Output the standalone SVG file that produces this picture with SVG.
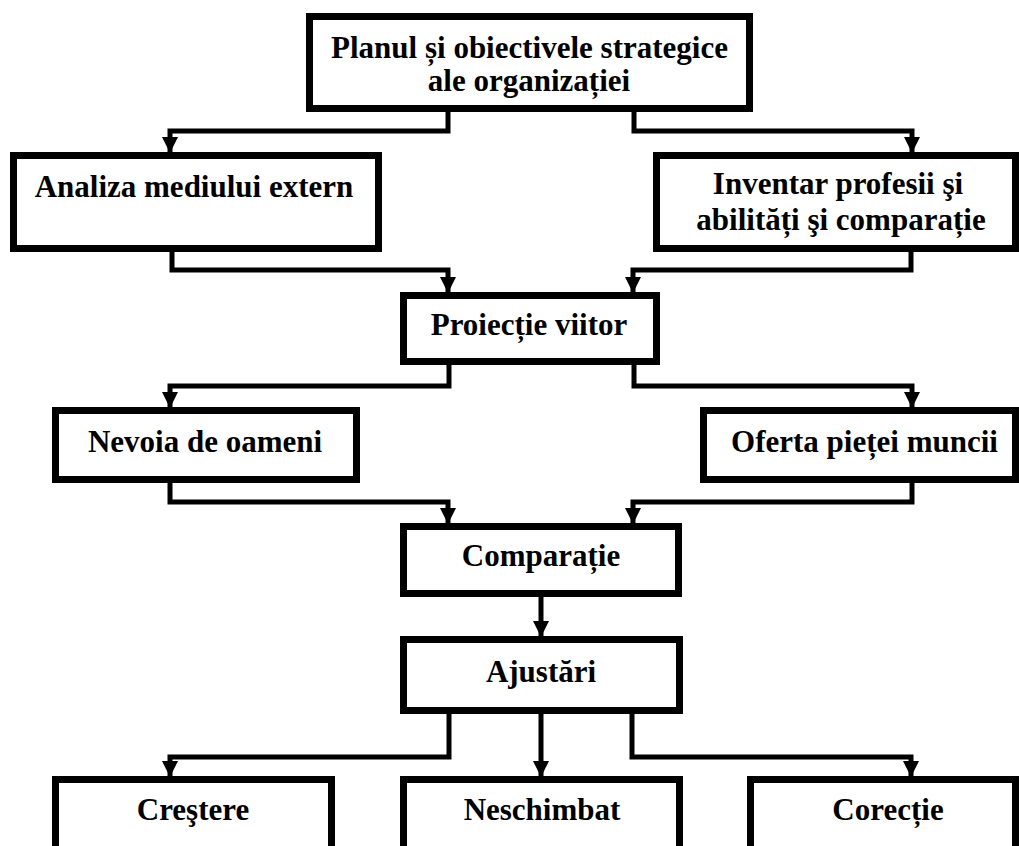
<svg xmlns="http://www.w3.org/2000/svg" width="1019" height="846" viewBox="0 0 1019 846">
<style>
.box{fill:#fff;stroke:#000;stroke-width:7;stroke-linejoin:miter}
.lbl{font-family:"Liberation Serif","Times New Roman",serif;font-weight:bold;font-size:31px;fill:#000;text-anchor:middle}
.con{fill:none;stroke:#000;stroke-width:5;stroke-linejoin:miter;stroke-linecap:butt;marker-end:url(#arr)}
</style>
<defs>
<marker id="arr" markerUnits="userSpaceOnUse" markerWidth="16" markerHeight="16" refX="15" refY="8" orient="auto">
<path d="M0,0 L16,8 L0,16 Z" fill="#000"/>
</marker>
</defs>
<rect width="1019" height="846" fill="#fff"/>
<g id="connectors">
<path class="con" d="M448,112 V131 H170 V152"/>
<path class="con" d="M634,112 V131 H912 V152"/>
<path class="con" d="M172,252 V270 H448 V292"/>
<path class="con" d="M911,252 V270 H633 V292"/>
<path class="con" d="M449,365 V386 H170 V407"/>
<path class="con" d="M634,365 V386 H912 V407"/>
<path class="con" d="M170,483 V502 H448 V523"/>
<path class="con" d="M912,483 V502 H633 V523"/>
<path class="con" d="M541,597 V636"/>
<path class="con" d="M449,714 V757 H170 V776"/>
<path class="con" d="M541,714 V776"/>
<path class="con" d="M632,714 V757 H911 V776"/>
</g>
<g id="plan">
<rect class="box" x="309.5" y="16.5" width="440" height="92"/>
<text class="lbl" x="529.5" y="58">Planul și obiectivele strategice</text>
<text class="lbl" x="529" y="91">ale organizației</text>
</g>
<g id="analiza">
<rect class="box" x="13.5" y="155.5" width="365" height="93"/>
<text class="lbl" x="194" y="197">Analiza mediului extern</text>
</g>
<g id="inventar">
<rect class="box" x="656.5" y="155.5" width="359" height="93"/>
<text class="lbl" x="838" y="194">Inventar profesii şi</text>
<text class="lbl" x="841" y="230">abilități şi comparație</text>
</g>
<g id="proiectie">
<rect class="box" x="403.5" y="295.5" width="253" height="66"/>
<text class="lbl" x="529" y="335">Proiecție viitor</text>
</g>
<g id="nevoia">
<rect class="box" x="55.5" y="410.5" width="301" height="69"/>
<text class="lbl" x="205" y="452">Nevoia de oameni</text>
</g>
<g id="oferta">
<rect class="box" x="703.5" y="410.5" width="312" height="69"/>
<text class="lbl" x="864.5" y="452">Oferta pieței muncii</text>
</g>
<g id="comparatie">
<rect class="box" x="403.5" y="526.5" width="275" height="67"/>
<text class="lbl" x="541" y="566">Comparație</text>
</g>
<g id="ajustari">
<rect class="box" x="403.5" y="639.5" width="276" height="71"/>
<text class="lbl" x="541" y="682">Ajustări</text>
</g>
<g id="crestere">
<rect class="box" x="55.5" y="779.5" width="276" height="80"/>
<text class="lbl" x="193" y="820">Creştere</text>
</g>
<g id="neschimbat">
<rect class="box" x="403.5" y="779.5" width="276" height="80"/>
<text class="lbl" x="542" y="820">Neschimbat</text>
</g>
<g id="corectie">
<rect class="box" x="750.5" y="779.5" width="265" height="80"/>
<text class="lbl" x="888" y="820">Corecție</text>
</g>
</svg>
